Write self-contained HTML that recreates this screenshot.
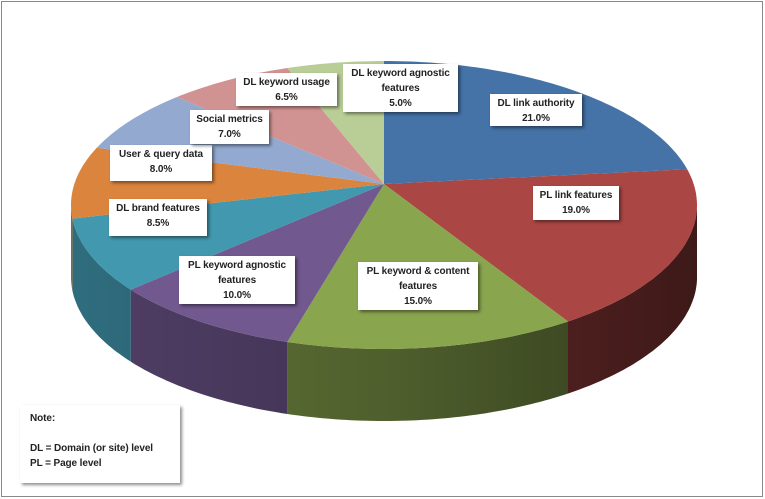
<!DOCTYPE html>
<html><head><meta charset="utf-8"><style>
html,body{margin:0;padding:0;background:#fff;}
#c{position:relative;width:765px;height:499px;overflow:hidden;font-family:"Liberation Sans",sans-serif;}
.lb{position:absolute;background:#fff;box-shadow:2px 2px 3px rgba(0,0,0,0.45);font-size:10px;font-weight:bold;color:#222;text-align:center;line-height:15px;padding:2px 0;box-sizing:border-box;white-space:nowrap;letter-spacing:-0.1px;}
</style></head><body>
<div id="c">
<svg id="s" width="765" height="499" style="position:absolute;left:0;top:0">
<defs>
<linearGradient id="sh" x1="0" x2="1" y1="0" y2="0">
<stop offset="0" stop-color="#000" stop-opacity="0.0"/>
<stop offset="0.5" stop-color="#000" stop-opacity="0.2"/>
<stop offset="1" stop-color="#000" stop-opacity="0.5"/>
</linearGradient>
</defs>
<rect x="1.5" y="1.5" width="761" height="495" fill="none" stroke="#888" stroke-width="1"/>
<g id="g"></g>
</svg>
<div class="lb" style="left:490px;top:94px;width:92px;height:32px;">DL link authority<br>21.0%</div>
<div class="lb" style="left:533px;top:186px;width:86px;height:34px;">PL link features<br>19.0%</div>
<div class="lb" style="left:358px;top:262px;width:120px;height:48px;">PL keyword &amp; content<br>features<br>15.0%</div>
<div class="lb" style="left:179px;top:256px;width:116px;height:48px;">PL keyword agnostic<br>features<br>10.0%</div>
<div class="lb" style="left:109px;top:199px;width:98px;height:37px;">DL brand features<br>8.5%</div>
<div class="lb" style="left:110px;top:145px;width:102px;height:36px;">User &amp; query data<br>8.0%</div>
<div class="lb" style="left:190px;top:110px;width:79px;height:34px;">Social metrics<br>7.0%</div>
<div class="lb" style="left:236px;top:73px;width:101px;height:33px;">DL keyword usage<br>6.5%</div>
<div class="lb" style="left:343px;top:64px;width:115px;height:48px;">DL keyword agnostic<br>features<br>5.0%</div>
<div class="lb" style="left:20px;top:405px;width:160px;height:78px;text-align:left;padding:6px 10px;">Note:<br><br>DL = Domain (or site) level<br>PL = Page level</div>
</div>
<script>
var cx=384,cy=205,rx=313,ry=144,ax=384,ay=184,D=72;
var data=[[21,'#4572a7'],[19,'#aa4643'],[15,'#89a54e'],[10,'#71588f'],[8.5,'#4198af'],[8,'#db843d'],[7,'#93a9cf'],[6.5,'#d19392'],[5,'#b9cd96']];
function pt(t){var r=t*Math.PI/180;return [cx+rx*Math.sin(r),cy-ry*Math.cos(r)];}
function dark(h,f){var n=parseInt(h.slice(1),16);var r=(n>>16)&255,g=(n>>8)&255,b=n&255;return 'rgb('+Math.round(r*f)+','+Math.round(g*f)+','+Math.round(b*f)+')';}
var g=document.getElementById('g'),sides='',tops='',band='';
var a=0;
data.forEach(function(d){
 var s=a,e=a+d[0]*3.6;a=e;
 var vs=Math.max(s,90),ve=Math.min(e,270);
 if(ve>vs){
  var p=[],q=[];
  for(var t=vs;t<=ve+0.001;t+=1){var P=pt(Math.min(t,ve));p.push(P[0].toFixed(1)+','+P[1].toFixed(1));q.unshift(P[0].toFixed(1)+','+(P[1]+D).toFixed(1));}
  var P=pt(ve);p.push(P[0].toFixed(1)+','+P[1].toFixed(1));q.unshift(P[0].toFixed(1)+','+(P[1]+D).toFixed(1));
  sides+='<polygon points="'+p.join(' ')+' '+q.join(' ')+'" fill="'+dark(d[1],0.72)+'"/>';
 }
 var pts=[ax+','+ay];
 for(var t=s;t<=e+0.001;t+=1){var P=pt(Math.min(t,e));pts.push(P[0].toFixed(1)+','+P[1].toFixed(1));}
 var P=pt(e);pts.push(P[0].toFixed(1)+','+P[1].toFixed(1));
 tops+='<polygon points="'+pts.join(' ')+'" fill="'+d[1]+'"/>';
});
var p=[],q=[];
for(var t=90;t<=270;t+=1){var P=pt(t);p.push(P[0].toFixed(1)+','+P[1].toFixed(1));q.unshift(P[0].toFixed(1)+','+(P[1]+D).toFixed(1));}
band='<polygon points="'+p.join(' ')+' '+q.join(' ')+'" fill="url(#sh)"/>';
g.innerHTML=sides+band+tops;
</script>
</body></html>
